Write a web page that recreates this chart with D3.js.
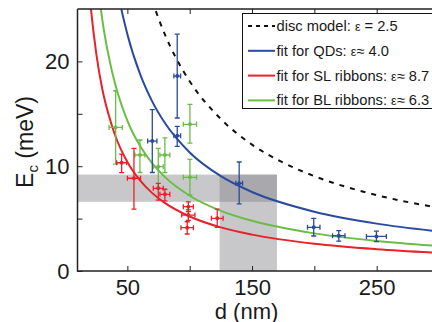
<!DOCTYPE html>
<html><head><meta charset="utf-8">
<script src="https://cdn.jsdelivr.net/npm/d3@7"></script>
<style>body{margin:0;background:#fff}svg{display:block}text{font-family:"Liberation Sans",Arial,Helvetica,sans-serif;fill:#1a1a1a}</style>
</head><body><svg id="c" width="432" height="322"></svg>
<script>
// ---- axis ticks ----
const xTicks = [50, 100, 150, 200, 250];
const xTickLabels = ["50", "", "150", "", "250"];
const yTicks = [0, 5, 10, 15, 20];
const yTickLabels = ["0", "", "10", "", "20"];

// ---- model / fit curves (d in nm, Ec in meV) ----
const discD = [65, 70, 80, 90, 100, 125, 150, 175, 200, 250, 300];
const discE = [27.8, 25.8, 22.6, 20.1, 18.1, 14.5, 12.06, 10.34, 9.05, 7.24, 6.03];
const qdD = [40, 45, 50, 60, 70, 80, 100, 125, 150, 200, 250, 300];
const qdE = [28.3, 25.1, 22.6, 18.85, 16.16, 14.14, 11.31, 9.05, 7.54, 5.66, 4.52, 3.77];
const slD = [18, 20, 25, 30, 35, 40, 50, 60, 70, 80, 100, 125, 150, 200, 250, 300];
const slE = [28.9, 26.0, 20.8, 17.3, 14.9, 13.0, 10.4, 8.67, 7.43, 6.5, 5.2, 4.16, 3.47, 2.6, 2.08, 1.73];
const blD = [25, 30, 35, 40, 50, 60, 70, 80, 100, 125, 150, 200, 250, 300];
const blE = [28.7, 23.9, 20.5, 17.95, 14.36, 11.97, 10.26, 8.98, 7.18, 5.74, 4.79, 3.59, 2.87, 2.39];

// ---- measured points: [d, dErr, Ec, EcLow, EcHigh] ----
const qdPts = [
  [90, 2.7, 18.6, 14.6, 22.6],
  [90, 2.7, 12.9, 11.9, 13.8],
  [70, 3.7, 12.4, 9.4, 15.4],
  [139.7, 2.7, 8.37, 6.4, 10.4],
  [199.5, 5, 4.17, 3.34, 5.03],
  [219.6, 5, 3.37, 2.85, 3.85],
  [249.8, 8, 3.3, 2.8, 3.8]
];
const slPts = [
  [45.4, 4, 10.33, 9.38, 11.16],
  [55.3, 5.3, 8.85, 5.9, 11.7],
  [74.8, 4, 7.89, 6.77, 8.37],
  [80.1, 4, 7.32, 6.7, 7.8],
  [98.9, 4, 6.14, 5.66, 6.6],
  [98.9, 5.3, 5.34, 4.84, 5.84],
  [98, 5, 4.13, 3.53, 4.7],
  [122.1, 4.7, 5.03, 4.17, 5.9]
];
const blPts = [
  [100.2, 5.3, 14.0, 12.2, 15.9],
  [40.6, 5.3, 13.7, 10.2, 17.2],
  [60.1, 4, 11.07, 9.4, 12.5],
  [80.1, 4, 11.07, 9.4, 12.7],
  [74.8, 4, 9.95, 7.9, 11.7],
  [100.2, 5.3, 8.94, 7.25, 10.66]
];

// ---- shaded ranges ----
const bandEc = [6.6, 9.2];
const bandD = [124, 170];

// ---- legend ----
const legendLabels = ["disc model: ", "fit for QDs: ", "fit for SL ribbons: ", "fit for BL ribbons: "];
const legendSym = ["\u03b5", "\u03b5", "\u03b5", "\u03b5"];
const legendVals = [" = 2.5", "\u2248 4.0", "\u2248 8.7", "\u2248 6.3"];

const C = {qd: "#2a4a9f", sl: "#e8212b", bl: "#6abd45", disc: "#111"};

const svg = d3.select("#c");
const L = 77.5, R = 439, T = 9, B = 271;
const x = d3.scaleLinear().domain([10, 300]).range([L, R]);
const y = d3.scaleLinear().domain([0, 25]).range([B, T]);

svg.append("defs").append("clipPath").attr("id", "clip")
  .append("rect").attr("x", L).attr("y", T).attr("width", R - L).attr("height", B - T);
const plot = svg.append("g").attr("clip-path", "url(#clip)");

// shaded bands
plot.append("rect").attr("x", x(10)).attr("width", x(bandD[1]) - x(10))
  .attr("y", y(bandEc[1])).attr("height", y(bandEc[0]) - y(bandEc[1]))
  .attr("fill", "#7b7d82").attr("fill-opacity", 0.42);
plot.append("rect").attr("x", x(bandD[0])).attr("width", x(bandD[1]) - x(bandD[0]))
  .attr("y", y(bandEc[1])).attr("height", y(0) - y(bandEc[1]))
  .attr("fill", "#7b7d82").attr("fill-opacity", 0.42);

// curves
const line = d3.line().x(d => x(d[0])).y(d => y(d[1])).curve(d3.curveMonotoneX);
function curve(ds, es, col, dash) {
  plot.append("path").datum(ds.map((d, i) => [d, es[i]]))
    .attr("d", line).attr("fill", "none").attr("stroke", col)
    .attr("stroke-width", 2).attr("stroke-dasharray", dash || null);
}
curve(discD, discE, C.disc, "5,6");
curve(qdD, qdE, C.qd);
curve(blD, blE, C.bl);
curve(slD, slE, C.sl);

// points with error bars
function points(pts, col) {
  const g = plot.append("g").attr("stroke", col).attr("stroke-width", 1.3).attr("fill", col);
  const cap = 2.5;
  pts.forEach(p => {
    const [d, de, e, lo, hi] = p;
    const cx = x(d), cy = y(e);
    g.append("line").attr("x1", cx).attr("x2", cx).attr("y1", y(lo)).attr("y2", y(hi));
    g.append("line").attr("x1", cx - cap).attr("x2", cx + cap).attr("y1", y(lo)).attr("y2", y(lo));
    g.append("line").attr("x1", cx - cap).attr("x2", cx + cap).attr("y1", y(hi)).attr("y2", y(hi));
    g.append("line").attr("x1", x(d - de)).attr("x2", x(d + de)).attr("y1", cy).attr("y2", cy);
    g.append("line").attr("x1", x(d - de)).attr("x2", x(d - de)).attr("y1", cy - cap).attr("y2", cy + cap);
    g.append("line").attr("x1", x(d + de)).attr("x2", x(d + de)).attr("y1", cy - cap).attr("y2", cy + cap);
    g.append("circle").attr("cx", cx).attr("cy", cy).attr("r", 2).attr("stroke", "none");
  });
}
points(blPts, C.bl);
points(qdPts, C.qd);
points(slPts, C.sl);

// axes
const ax = svg.append("g");
const axisStyle = g => {
  g.select(".domain").remove();
  g.selectAll("line").attr("stroke", "#222").attr("stroke-width", 1);
  g.selectAll("text").style("font-size", "22px").attr("fill", "#1a1a1a");
};
ax.append("g").attr("transform", `translate(0,${B})`)
  .call(d3.axisBottom(x).tickValues(xTicks).tickSize(-5).tickPadding(8)
    .tickFormat((d, i) => xTickLabels[i]))
  .call(axisStyle);
ax.append("g").attr("transform", `translate(0,${T})`)
  .call(d3.axisTop(x).tickValues(xTicks).tickSize(-5).tickFormat(""))
  .call(axisStyle);
ax.append("g").attr("transform", `translate(${L},0)`)
  .call(d3.axisLeft(y).tickValues(yTicks).tickSize(-5).tickPadding(8)
    .tickFormat((d, i) => yTickLabels[i]))
  .call(axisStyle);
// frame
svg.append("path").attr("d", `M${L},${T}H432M${L},${T}V${B}H432`)
  .attr("fill", "none").attr("stroke", "#222").attr("stroke-width", 1.5);

// axis titles
svg.append("text").attr("x", 246.5).attr("y", 318.5).attr("text-anchor", "middle")
  .style("font-size", "22px").text("d (nm)");
const yl = svg.append("text").attr("transform", "translate(33,142) rotate(-90)")
  .attr("text-anchor", "middle").style("font-size", "23px");
yl.append("tspan").text("E");
yl.append("tspan").attr("dy", 5).style("font-size", "15px").text("c");
yl.append("tspan").attr("dy", -5).text(" (meV)");

// legend
const lg = svg.append("g");
lg.append("rect").attr("x", 242.5).attr("y", 13.5).attr("width", 200).attr("height", 95)
  .attr("fill", "#fff").attr("stroke", "#111").attr("stroke-width", 1);
const lcols = [C.disc, C.qd, C.sl, C.bl];
lcols.forEach((c, i) => {
  const yy = 26 + i * 24.8;
  lg.append("line").attr("x1", 248).attr("x2", 275).attr("y1", yy).attr("y2", yy)
    .attr("stroke", c).attr("stroke-width", 2).attr("stroke-dasharray", i === 0 ? "4,4" : null);
  const t = lg.append("text").attr("x", 276.5).attr("y", yy + 5).style("font-size", "14.7px");
  t.append("tspan").text(legendLabels[i]);
  t.append("tspan").style("font-size", "12.5px").text(legendSym[i]);
  t.append("tspan").text(legendVals[i]);
});
</script></body></html>
